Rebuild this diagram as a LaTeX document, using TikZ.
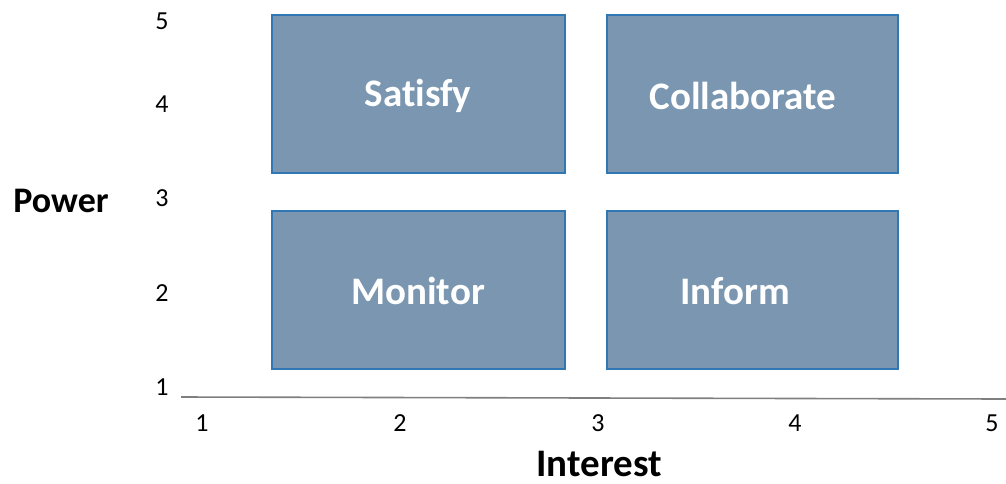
\documentclass[tikz,border=0pt]{standalone}
\usepackage{fontspec}
\setmainfont{Carlito}[Ligatures=NoCommon]
\definecolor{boxfill}{HTML}{7A96B0}
\definecolor{boxedge}{HTML}{2F78B4}
\definecolor{axisgray}{HTML}{7F7F7F}
\begin{document}
\begin{tikzpicture}[x=1pt,y=-1pt,
  quad/.style={draw=boxedge,line width=1.6pt,fill=boxfill},
  quadlabel/.style={text=white,font=\fontsize{39}{42}\selectfont\bfseries,anchor=center,inner sep=0pt},
  tick/.style={font=\fontsize{26}{28}\selectfont,anchor=center,inner sep=0pt},
  powtitle/.style={font=\fontsize{36}{38}\selectfont\bfseries,anchor=center,inner sep=0pt},
  inttitle/.style={font=\fontsize{39}{41}\selectfont\bfseries,anchor=center,inner sep=0pt}]
\useasboundingbox (0,0) rectangle (1006,483);
% boxes
\draw[quad] (272,15) rectangle (565,173);
\draw[quad] (607,15) rectangle (898,173);
\draw[quad] (272,211) rectangle (565,369);
\draw[quad] (607,211) rectangle (898,369);
\node[quadlabel] (sat) at (418,96) {Satisfy};
\node[quadlabel] (col) at (743,96) {Collaborate};
\node[quadlabel] (mon) at (418,291) {Monitor};
\node[quadlabel] (inf) at (735,291) {Inform};
% axis
\coordinate (a0) at (181,397);
\coordinate (a1) at (1006,399);
\draw[axisgray,line width=1.6pt] (a0) -- (a1);
% x ticks
\node[tick] (x1) at (202,423) {1};
\node[tick] (x2) at (400,423) {2};
\node[tick] (x3) at (598,423) {3};
\node[tick] (x4) at (795,423) {4};
\node[tick] (x5) at (992,423) {5};
% y ticks
\node[tick] (y5) at (162,21) {5};
\node[tick] (y4) at (162,104) {4};
\node[tick] (y3) at (162,198) {3};
\node[tick] (y2) at (162,293) {2};
\node[tick] (y1) at (162,387) {1};
% titles
\node[powtitle] (pow) at (61,201) {Power};
\node[inttitle] (int) at (599,464) {Interest};
\end{tikzpicture}
\end{document}
